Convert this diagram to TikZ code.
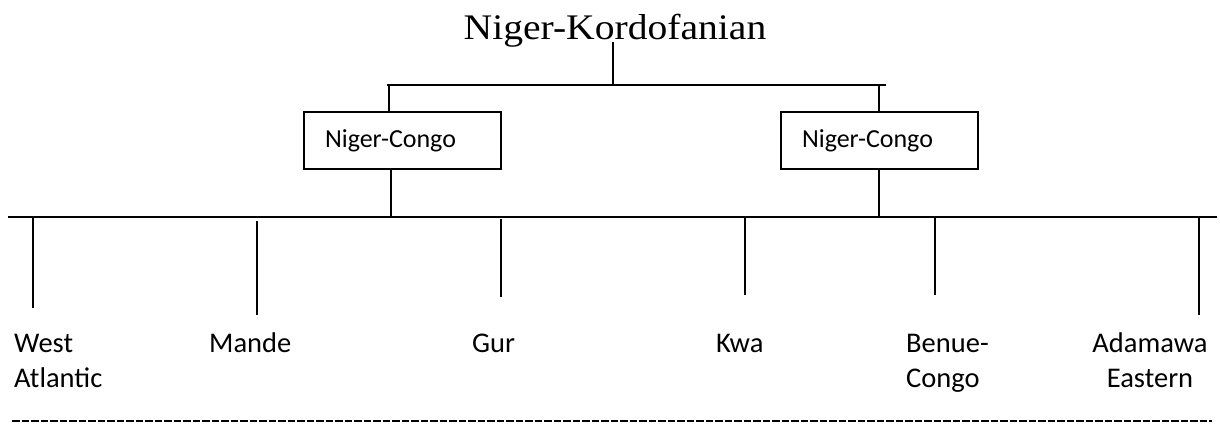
\documentclass[tikz,border=0pt]{standalone}
\usepackage{graphicx}
\usepackage{fontspec}
\setmainfont{Carlito}
\newfontfamily\titlefont{Liberation Serif}
\begin{document}
\begin{tikzpicture}[x=1pt,y=-1pt,
  link/.style={line width=1.4pt, black},
  ncbox/.style={draw, line width=1.5pt, minimum height=57pt, text width=155pt,
    inner xsep=21pt, inner ysep=0pt, align=left, font=\fontsize{26}{30}\selectfont},
  leaf/.style={inner sep=0pt, font=\fontsize{28.5}{35.5}\selectfont},
  mainbar/.style={line width=2.6pt, black},
  baseline rule/.style={line width=1.3pt, dash pattern=on 7.5pt off 2pt}
]
\useasboundingbox (0,0) rectangle (1220,423);

% title
\node[anchor=base, inner sep=0pt] (title) at (615,39)
  {\titlefont\fontsize{36}{40}\selectfont\scalebox{1.1}[1]{Niger-Kordofanian}};
\coordinate (kt) at (613,42);
\coordinate (kb) at (613,85);
\coordinate (bl) at (387,85);
\coordinate (br) at (886,85);
\draw[link] (bl) -- (br);
\draw[link] (kt) -- (kb);

% Niger-Congo boxes
\node[ncbox] (nc1) at (402.5,140.5) {Niger-Congo};
\node[ncbox] (nc2) at (879.5,140.5) {Niger-Congo};
\coordinate (j1) at (389,85);
\coordinate (j2) at (879,85);
\draw[link] (j1) -- (j1 |- nc1.north);
\draw[link] (j2) -- (j2 |- nc2.north);

% main bar
\coordinate (ml) at (8,217);
\coordinate (mr) at (1217,217);
\draw[mainbar] (ml) -- (mr);
\coordinate (d1) at (391,217);
\coordinate (d2) at (879,217);
\draw[link] (d1 |- nc1.south) -- (d1);
\draw[link] (d2 |- nc2.south) -- (d2);

% leaves (multi-line nodes: base = last line's baseline)
\node[leaf, anchor=base west, align=left] (wa) at (14,387.5) {West\\Atlantic};
\node[leaf, anchor=base west] (ma) at (209,352) {Mande};
\node[leaf, anchor=base west] (gu) at (472,352) {Gur};
\node[leaf, anchor=base west] (kw) at (716,352) {Kwa};
\node[leaf, anchor=base west, align=left] (bc) at (906,387.5) {Benue-\\Congo};
\node[leaf, anchor=base, align=center] (ae) at (1150,387.5) {Adamawa\\Eastern};

\foreach \n/\x/\a/\b in {wa/33/216/308, ma/257/221/315, gu/501/219/297,
                         kw/745/216/295, bc/935/216/295, ae/1199/216/315} {
  \coordinate (\n top) at (\x,\a);
  \coordinate (\n bot) at (\x,\b);
  \draw[link] (\n top) -- (\n bot);
}

% dashed rule
\coordinate (dl) at (12,421);
\coordinate (dr) at (1212,421);
\draw[baseline rule] (dl) -- (dr);
\end{tikzpicture}
\end{document}
